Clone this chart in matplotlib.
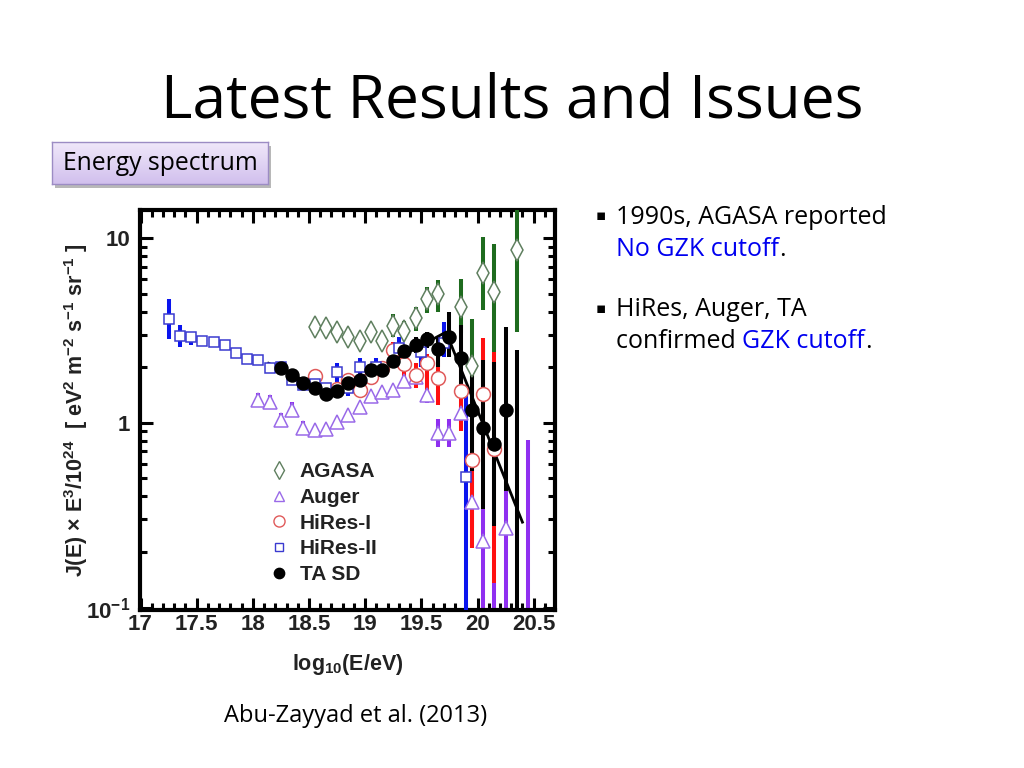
import numpy as np
import matplotlib
matplotlib.use('Agg')
import matplotlib.pyplot as plt
from matplotlib.ticker import MultipleLocator, LogLocator, FixedLocator, FixedFormatter, NullFormatter
from matplotlib.lines import Line2D
from matplotlib.patches import Rectangle

plt.rcParams['mathtext.fontset'] = 'custom'
plt.rcParams['mathtext.rm'] = 'Liberation Sans:bold'
plt.rcParams['mathtext.bf'] = 'Liberation Sans:bold'
plt.rcParams['mathtext.it'] = 'Liberation Sans:bold'

# ---- data (log10 E, J*E^3/1e24, lower, upper) ----
agasa_x = [18.55, 18.65, 18.75, 18.85, 18.95, 19.05, 19.15, 19.25, 19.35, 19.45, 19.55, 19.65, 19.85, 19.95, 20.05, 20.15, 20.35]
agasa_y = [3.32, 3.25, 3.12, 2.93, 2.79, 3.12, 2.79, 3.34, 3.14, 3.68, 4.66, 4.96, 4.25, 2.04, 6.49, 5.13, 8.61]
agasa_lo = [3.32, 3.25, 3.12, 2.93, 2.79, 3.12, 2.79, 2.90, 2.80, 3.15, 3.92, 4.00, 3.07, 1.33, 4.08, 2.43, 3.12]
agasa_hi = [3.32, 3.25, 3.12, 2.93, 2.79, 3.12, 2.79, 3.90, 3.57, 4.22, 5.41, 5.93, 6.00, 3.64, 10.1, 9.25, 16.0]

auger_x = [18.05, 18.15, 18.25, 18.35, 18.45, 18.55, 18.65, 18.75, 18.85, 18.95, 19.05, 19.15, 19.25, 19.35, 19.45, 19.55, 19.65, 19.75, 19.85, 19.95, 20.05, 20.15, 20.25, 20.45]
auger_y = [1.33, 1.30, 1.04, 1.18, 0.936, 0.917, 0.924, 1.01, 1.10, 1.22, 1.39, 1.46, 1.51, 1.69, 1.78, 1.41, 0.88, 0.88, 1.13, 0.375, 0.23, 0.05, 0.27, 0.05]
auger_lo = [1.22, 1.19, 0.95, 1.08, 0.86, 0.917, 0.924, 1.01, 1.10, 1.22, 1.39, 1.46, 1.51, 1.60, 1.68, 1.28, 0.74, 0.74, 1.00, 0.27, 0.01, 0.01, 0.01, 0.01]
auger_hi = [1.45, 1.42, 1.13, 1.29, 1.02, 0.917, 0.924, 1.01, 1.10, 1.22, 1.39, 1.46, 1.51, 1.79, 1.88, 1.48, 1.05, 1.05, 1.25, 0.50, 0.34, 0.136, 0.43, 0.81]

hires1_x = [18.55, 18.75, 18.85, 18.95, 19.05, 19.15, 19.25, 19.35, 19.45, 19.55, 19.65, 19.85, 19.95, 20.05, 20.15]
hires1_y = [1.79, 1.53, 1.71, 1.50, 1.77, 1.98, 2.48, 2.07, 1.82, 2.12, 1.74, 1.48, 0.63, 1.44, 0.72]
hires1_lo = [1.70, 1.45, 1.60, 1.40, 1.62, 1.80, 2.20, 1.75, 1.55, 1.33, 1.25, 0.90, 0.21, 0.80, 0.135]
hires1_hi = [1.88, 1.61, 1.82, 1.60, 1.92, 2.16, 2.75, 2.35, 2.11, 2.35, 2.20, 2.00, 0.90, 2.87, 2.43]

hires2_x = [17.25, 17.35, 17.45, 17.55, 17.65, 17.75, 17.85, 17.95, 18.05, 18.15, 18.25, 18.35, 18.45, 18.55, 18.65, 18.75, 18.85, 18.95, 19.1, 19.3, 19.5, 19.7, 19.9]
hires2_y = [3.63, 2.95, 2.91, 2.78, 2.75, 2.64, 2.40, 2.23, 2.20, 1.98, 2.01, 1.71, 1.60, 1.62, 1.54, 1.88, 1.55, 2.01, 2.01, 2.53, 2.43, 2.70, 0.51]
hires2_lo = [2.83, 2.58, 2.65, 2.65, 2.65, 2.58, 2.35, 2.18, 2.15, 1.90, 1.93, 1.61, 1.50, 1.52, 1.45, 1.67, 1.40, 1.80, 1.78, 2.10, 2.01, 2.28, 0.01]
hires2_hi = [4.67, 3.39, 3.10, 2.92, 2.85, 2.70, 2.45, 2.28, 2.25, 2.06, 2.10, 1.81, 1.70, 1.72, 1.63, 2.10, 1.70, 2.25, 2.25, 2.93, 2.81, 3.53, 1.48]

ta_x = [18.25, 18.35, 18.45, 18.55, 18.65, 18.75, 18.85, 18.95, 19.05, 19.15, 19.25, 19.35, 19.45, 19.55, 19.65, 19.75, 19.85, 19.95, 20.05, 20.15, 20.25, 20.35]
ta_y = [1.98, 1.82, 1.65, 1.54, 1.43, 1.49, 1.65, 1.71, 1.93, 1.93, 2.17, 2.46, 2.64, 2.83, 2.50, 2.90, 2.25, 1.18, 0.935, 0.767, 1.18, 0.05]
ta_lo = [1.91, 1.75, 1.58, 1.48, 1.37, 1.43, 1.58, 1.63, 1.84, 1.82, 2.04, 2.30, 2.40, 2.55, 2.01, 2.28, 1.50, 0.55, 0.34, 0.276, 0.43, 0.01]
ta_hi = [2.05, 1.89, 1.72, 1.60, 1.49, 1.55, 1.72, 1.79, 2.02, 2.04, 2.30, 2.62, 2.90, 3.10, 2.93, 4.00, 3.40, 2.01, 2.20, 2.14, 3.32, 2.48]

# TA broken power-law fit
fit_x = [18.14, 18.70, 19.72, 20.40]
fit_y = [2.10, 1.44, 3.10, 0.29]

fig = plt.figure(figsize=(10.24, 7.68), dpi=100)
fig.patch.set_facecolor('white')

ax = fig.add_axes([140/1024, 1-610/768, 415/1024, 400/768])
ax.set_yscale('log')
ax.set_xlim(16.995, 20.69)
ax.set_ylim(0.097, 14.2)

def yerr(y, lo, hi):
    y = np.array(y); lo = np.array(lo); hi = np.array(hi)
    return [y - lo, hi - y]

series = [
    # x, y, lo, hi, bar colour, edge colour, marker, size, face, label
    (auger_x, auger_y, auger_lo, auger_hi, '#8f2ff0', '#9a6ae8', '^', 9.5, 'white', 'Auger'),
    (agasa_x, agasa_y, agasa_lo, agasa_hi, '#1e6b1e', '#5f7f5f', 'd', 11, 'white', 'AGASA'),
    (hires1_x, hires1_y, hires1_lo, hires1_hi, '#ff1010', '#e05a5a', 'o', 10, 'white', 'HiRes-I'),
    (hires2_x, hires2_y, hires2_lo, hires2_hi, '#0a14ee', '#3a3ad0', 's', 7.6, 'white', 'HiRes-II'),
    (ta_x, ta_y, ta_lo, ta_hi, 'black', 'black', 'o', 9.3, 'black', 'TA SD'),
]

for i, (x, y, lo, hi, bc, ec, m, ms, fc, lab) in enumerate(series):
    ax.errorbar(x, y, yerr=yerr(y, lo, hi), fmt='none', ecolor=bc, elinewidth=2.9, capsize=0, zorder=2 + i)

ax.plot(fit_x, fit_y, color='black', lw=2.0, zorder=8)

for i, (x, y, lo, hi, bc, ec, m, ms, fc, lab) in enumerate(series):
    ax.plot(x, y, ls='none', marker=m, ms=ms, mfc=fc, mec=ec, mew=1.1, zorder=10 + i)

handles = []
for key in ['AGASA', 'Auger', 'HiRes-I', 'HiRes-II', 'TA SD']:
    for (x, y, lo, hi, bc, ec, m, ms, fc, lab) in series:
        if lab == key:
            handles.append(Line2D([], [], ls='none', marker=m, ms=ms * 0.8, mfc=fc, mec=ec, mew=1.0, label=lab))
leg = ax.legend(handles=handles, loc='upper left', bbox_to_anchor=(0.29, 0.39), frameon=False,
                handlelength=1.0, handletextpad=0.5, labelspacing=0.32, borderaxespad=0,
                prop={'family': 'Liberation Sans', 'weight': 'bold', 'size': 15})
for t in leg.get_texts():
    t.set_color('#222222')

for s in ax.spines.values():
    s.set_linewidth(3)
ax.xaxis.set_minor_locator(MultipleLocator(0.1))
ax.set_xticks([17, 17.5, 18, 18.5, 19, 19.5, 20, 20.5])
ax.set_xticklabels(['17', '17.5', '18', '18.5', '19', '19.5', '20', '20.5'])
ax.yaxis.set_major_locator(FixedLocator([0.1, 1, 10]))
ax.yaxis.set_major_formatter(FixedFormatter([r'10$^{-1}$', '1', '10']))
ax.yaxis.set_minor_locator(LogLocator(base=10, subs=np.arange(2, 10)))
ax.yaxis.set_minor_formatter(NullFormatter())
ax.tick_params(which='both', direction='in', top=True, right=True, width=2.2)
ax.tick_params(which='major', length=9)
ax.tick_params(which='minor', length=5)
ax.tick_params(axis='x', pad=3)
ax.tick_params(axis='y', pad=7)
for lbl in ax.get_xticklabels() + ax.get_yticklabels():
    lbl.set_fontfamily('Liberation Sans')
    lbl.set_fontweight('bold')
    lbl.set_fontsize(16)
    lbl.set_color('#222222')

ax.set_xlabel(r'log$_{10}$(E/eV)', fontsize=15.5, fontweight='bold', fontfamily='Liberation Sans', color='#222222', labelpad=12)
ax.set_ylabel(r'J(E) $\times$ E$^{3}$/10$^{24}$  [ eV$^{2}$ m$^{-2}$ s$^{-1}$ sr$^{-1}$ ]', fontsize=15.5,
              fontweight='bold', fontfamily='Liberation Sans', color='#222222', labelpad=-3)

# ---- slide texts ----
slide_font = ['Open Sans', 'DejaVu Sans']
fig.text(0.5, 1 - 101/768, 'Latest Results and Issues', ha='center', va='center', fontsize=43.5, family=slide_font)

# "Energy spectrum" box with shadow and gradient
fig.patches.append(Rectangle((55/1024, 1 - 188/768), 216/1024, 42/768, transform=fig.transFigure,
                             facecolor='#b8b8b8', edgecolor='none', zorder=1))
bax = fig.add_axes([52/1024, 1 - 184/768, 216/1024, 42/768], zorder=2)
grad = np.linspace(0, 1, 64).reshape(-1, 1)
top = np.array([0.94, 0.91, 0.98]); bot = np.array([0.82, 0.75, 0.93])
img = top[None, None, :] * (1 - grad[:, :, None]) + bot[None, None, :] * grad[:, :, None]
bax.imshow(img, aspect='auto', extent=[0, 1, 0, 1])
bax.set_xticks([]); bax.set_yticks([])
for s in bax.spines.values():
    s.set_color('#9c8cc4'); s.set_linewidth(1)
bax.text(0.5, 0.5, 'Energy spectrum', ha='center', va='center', fontsize=17.8, family=slide_font,
         transform=bax.transAxes)

renderer = fig.canvas.get_renderer()

def rich_line(x, y, pieces, size):
    for s, c in pieces:
        t = fig.text(x, y, s, color=c, fontsize=size, family=slide_font, va='center', ha='left')
        bb = t.get_window_extent(renderer)
        x += bb.width / fig.bbox.width

blue = '#0000f0'
fs = 18
fig.text(596/1024, 1 - 216/768, '\u25aa', fontsize=11, family=['DejaVu Sans'], va='center')
rich_line(616/1024, 1 - 218/768, [('1990s, AGASA reported', 'black')], fs)
rich_line(616/1024, 1 - 249/768, [('No GZK cutoff', blue), ('.', 'black')], fs)
fig.text(596/1024, 1 - 308/768, '\u25aa', fontsize=11, family=['DejaVu Sans'], va='center')
rich_line(616/1024, 1 - 310/768, [('HiRes, Auger, TA', 'black')], fs)
rich_line(616/1024, 1 - 341/768, [('confirmed ', 'black'), ('GZK cutoff', blue), ('.', 'black')], fs)

fig.text(356/1024, 1 - 716/768, 'Abu-Zayyad et al. (2013)', ha='center', va='center', fontsize=17, family=slide_font)

fig.savefig('out.png', dpi=100, facecolor='white')
